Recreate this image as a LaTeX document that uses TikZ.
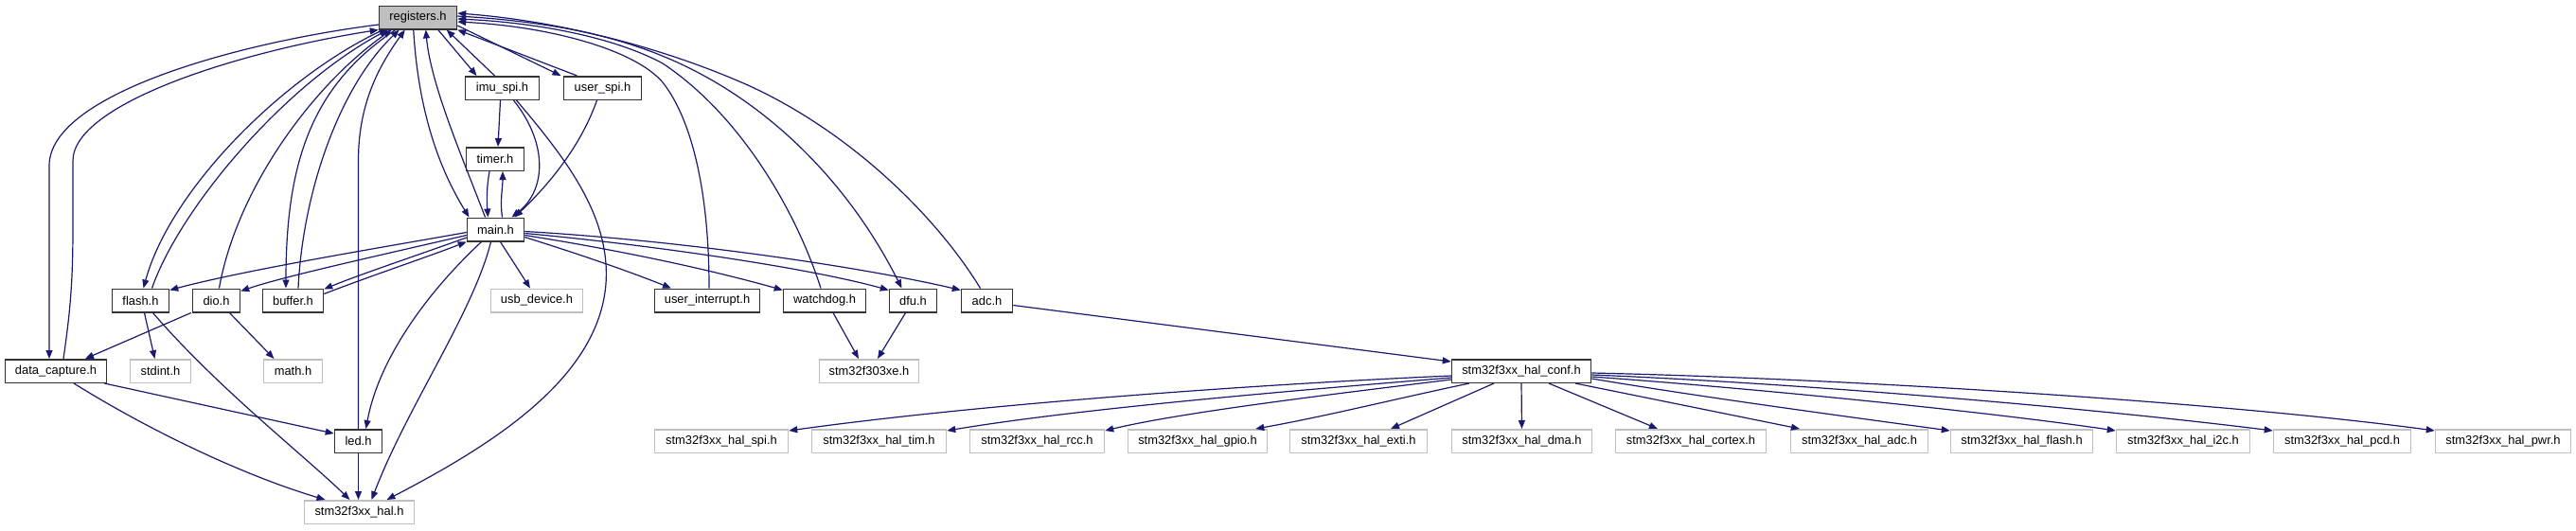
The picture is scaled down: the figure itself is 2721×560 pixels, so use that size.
\documentclass[tikz,border=0pt]{standalone}
\usepackage{fontspec}
\setmainfont{Liberation Sans}
\usetikzlibrary{arrows.meta}
\definecolor{edgeblue}{HTML}{191970}
\definecolor{boxgray}{HTML}{BFBFBF}
\definecolor{boxline}{HTML}{333333}
\begin{document}
\begin{tikzpicture}[x=1pt,y=-1pt,
  box/.style={draw=boxline, line width=1.5pt, inner sep=0pt, minimum height=24.5pt, fill=white, font=\fontsize{12.9}{15}\selectfont},
  ext/.style={box, draw=boxgray},
  edge/.style={draw=edgeblue, line width=1.2pt, -{Triangle[length=9pt,width=7pt]}},
]
\useasboundingbox[fill=white] (0,0) rectangle (2721,560);
% row 1-4
\node[box, fill=boxgray, minimum width=82pt] (reg) at (441.5,18.5) {registers.h};
\node[box, minimum width=78pt] (imu) at (530.5,93) {imu\_spi.h};
\node[box, minimum width=82pt] (uspi) at (636.5,93) {user\_spi.h};
\node[box, minimum width=61pt] (timer) at (523,168) {timer.h};
\node[box, minimum width=60pt] (main) at (523.5,242.5) {main.h};
% row 5
\node[box, minimum width=60pt] (flash) at (148.5,317.5) {flash.h};
\node[box, minimum width=50pt] (dio) at (228.5,317.5) {dio.h};
\node[box, minimum width=64pt] (buffer) at (309.5,317.5) {buffer.h};
\node[ext, minimum width=97pt] (usb) at (567,317.5) {usb\_device.h};
\node[box, minimum width=111pt] (ui) at (747,317.5) {user\_interrupt.h};
\node[box, minimum width=87pt] (wd) at (871,317.5) {watchdog.h};
\node[box, minimum width=50pt] (dfu) at (964.5,317.5) {dfu.h};
\node[box, minimum width=54pt] (adc) at (1042.5,317.5) {adc.h};
% row 6
\node[box, minimum width=107pt] (dc) at (59,392) {data\_capture.h};
\node[ext, minimum width=64pt] (stdint) at (169.5,392) {stdint.h};
\node[ext, minimum width=62pt] (math) at (309.5,392) {math.h};
\node[ext, minimum width=105pt] (f303) at (918,392) {stm32f303xe.h};
\node[box, minimum width=147pt] (conf) at (1607,392) {stm32f3xx\_hal\_conf.h};
% row 7
\node[box, minimum width=50pt] (led) at (378.5,466) {led.h};
\node[ext, minimum width=141pt] (spi) at (762,466) {stm32f3xx\_hal\_spi.h};
\node[ext, minimum width=142pt] (tim) at (928.5,466) {stm32f3xx\_hal\_tim.h};
\node[ext, minimum width=142pt] (rcc) at (1095.5,466) {stm32f3xx\_hal\_rcc.h};
\node[ext, minimum width=147pt] (gpio) at (1265,466) {stm32f3xx\_hal\_gpio.h};
\node[ext, minimum width=145pt] (exti) at (1435,466) {stm32f3xx\_hal\_exti.h};
\node[ext, minimum width=148pt] (dma) at (1607.5,466) {stm32f3xx\_hal\_dma.h};
\node[ext, minimum width=159pt] (cortex) at (1786,466) {stm32f3xx\_hal\_cortex.h};
\node[ext, minimum width=145pt] (hadc) at (1964,466) {stm32f3xx\_hal\_adc.h};
\node[ext, minimum width=150pt] (hflash) at (2135.5,466) {stm32f3xx\_hal\_flash.h};
\node[ext, minimum width=141pt] (i2c) at (2306,466) {stm32f3xx\_hal\_i2c.h};
\node[ext, minimum width=145pt] (pcd) at (2474,466) {stm32f3xx\_hal\_pcd.h};
\node[ext, minimum width=143pt] (pwr) at (2644,466) {stm32f3xx\_hal\_pwr.h};
% row 8
\node[ext, minimum width=116pt] (hal) at (379.5,541) {stm32f3xx\_hal.h};

% around registers
\draw[edge] ([xshift=63pt]reg.south west) -- ([xshift=-27pt]imu.north);
\draw[edge] ([xshift=-8pt]imu.north) -- ([xshift=72pt]reg.south west);
\draw[edge] ([yshift=-8.5pt]reg.east) -- ([xshift=-44pt]uspi.north);
\draw[edge] ([xshift=-27pt]uspi.north) -- (reg.south east);
\draw[edge] ([xshift=37pt]reg.south west) .. controls (442,120) and (465,180) .. ([xshift=-28pt]main.north);
\draw[edge] ([xshift=-11pt]main.north) .. controls (490,170) and (455,90) .. ([xshift=50pt]reg.south west);
\draw[edge] ([xshift=7pt]main.north) .. controls (528,212) and (531,198) .. ([xshift=8pt]timer.south);
\draw[edge] ([xshift=-6pt]timer.south) .. controls (514,198) and (514,212) .. ([xshift=-8pt]main.north);
\draw[edge] ([xshift=-2pt]imu.south) -- ([xshift=3pt]timer.north);
\draw[edge] ([xshift=12pt]imu.south) .. controls (578,150) and (578,200) .. ([xshift=17pt]main.north);
\draw[edge] ([xshift=-6pt]uspi.south) .. controls (615,150) and (585,190) .. ([xshift=20pt]main.north);
\draw[edge] ([xshift=15pt]imu.south) .. controls (600,170) and (645,230) .. (640,300) .. controls (632,400) and (520,470) .. ([xshift=29pt]hal.north);

% left side
\draw[edge] ([yshift=-7.5pt]reg.west) .. controls (250,45) and (52,100) .. (52,175) -- ([xshift=-7pt]dc.north);
\draw[edge] ([xshift=8pt]dc.north) .. controls (74,330) and (77,300) .. (77,240) -- (77,170) .. controls (77,110) and (250,55) .. (reg.south west);
\draw[edge] ([xshift=5pt]reg.south west) .. controls (300,80) and (180,200) .. ([xshift=3pt]flash.north);
\draw[edge] ([xshift=12pt]flash.north) .. controls (190,220) and (300,90) .. ([xshift=10pt]reg.south west);
\draw[edge] ([xshift=3pt]dio.north) .. controls (250,200) and (330,90) .. ([xshift=14pt]reg.south west);
\draw[edge] ([xshift=18pt]reg.south west) .. controls (330,90) and (302,170) .. ([xshift=-7.5pt]buffer.north);
\draw[edge] ([xshift=5.5pt]buffer.north) .. controls (320,200) and (360,90) .. ([xshift=22pt]reg.south west);
\draw[edge] (led.north) -- ++(0,-283) .. controls (378.5,110) and (400,70) .. ([xshift=28pt]reg.south west);

% main to the left and below
\draw[edge] ([yshift=-3pt]main.west) .. controls (400,262) and (260,285) .. ([yshift=-2pt]flash.north east);
\draw[edge] ([yshift=-6pt]main.west) .. controls (400,270) and (300,292) .. ([yshift=-3pt]dio.north east);
\draw[edge] ([yshift=-8.5pt]main.west) .. controls (440,270) and (380,290) .. ([yshift=-1pt]buffer.north east);
\draw[edge] ([yshift=-6pt]buffer.north east) .. controls (390,292) and (450,272) .. (main.south west);
\draw[edge] ([xshift=5pt]main.south) -- ([xshift=-7pt]usb.north);
\draw[edge] ([xshift=-15pt]main.south) .. controls (450,310) and (400,380) .. ([xshift=8pt]led.north);
\draw[edge] ([xshift=-5pt]main.south) .. controls (500,330) and (430,430) .. ([xshift=13pt]hal.north);

% bottom left
\draw[edge] ([xshift=-3pt]dc.south east) -- ([yshift=8pt]led.west);
\draw[edge] ([xshift=19pt]dc.south) .. controls (150,450) and (250,500) .. ([xshift=-36pt]hal.north);
\draw[edge] ([xshift=4pt]flash.south) -- ([xshift=-6pt]stdint.north);
\draw[edge] ([xshift=13pt]flash.south) .. controls (230,410) and (320,480) .. ([xshift=-10pt]hal.north);
\draw[edge] ([xshift=-1pt]dio.south west) -- ([xshift=31pt]dc.north);
\draw[edge] ([xshift=14pt]dio.south) -- ([xshift=-20pt]math.north);
\draw[edge] (led.south) -- (led.south |- hal.north);

% main to the right
\draw[edge] ([yshift=-8pt]main.east) .. controls (610,268) and (660,285) .. ([xshift=-38pt]ui.north);
\draw[edge] ([yshift=-6pt]main.east) .. controls (640,262) and (740,282) .. ([yshift=-2pt]wd.north west);
\draw[edge] ([yshift=-4pt]main.east) .. controls (680,258) and (850,282) .. ([yshift=-2pt]dfu.north west);
\draw[edge] ([yshift=-2pt]main.east) .. controls (720,254) and (910,282) .. ([yshift=-2pt]adc.north west);

% right side back to registers
\draw[edge] ([xshift=2pt]ui.north) .. controls (749,200) and (730,125) .. (700,87) .. controls (670,52) and (580,28) .. ([yshift=-4.5pt]reg.east);
\draw[edge] ([xshift=-4pt]wd.north) .. controls (840,220) and (780,120) .. (700,67) .. controls (650,40) and (570,24) .. ([yshift=-1.5pt]reg.east);
\draw[edge] ([yshift=1.5pt]reg.east) .. controls (570,22) and (650,35) .. (720,68) .. controls (820,115) and (900,200) .. ([xshift=-12pt]dfu.north);
\draw[edge] ([xshift=-7pt]adc.north) .. controls (990,230) and (900,140) .. (790,90) .. controls (700,50) and (590,22) .. ([yshift=4.5pt]reg.east);

\draw[edge] ([xshift=9pt]wd.south) -- ([xshift=-11pt]f303.north);
\draw[edge] ([xshift=-8pt]dfu.south) -- ([xshift=9pt]f303.north);
\draw[edge] ([yshift=-5pt]adc.east) -- ([yshift=-3pt]conf.north west);

% hal conf fan-out
\draw[edge] ([yshift=-5pt]conf.west) .. controls (1350,405) and (1050,425) .. ([yshift=-2pt]spi.north east);
\draw[edge] ([yshift=-7pt]conf.west) .. controls (1400,410) and (1150,430) .. ([yshift=-2pt]tim.north east);
\draw[edge] ([yshift=-9pt]conf.west) .. controls (1420,415) and (1250,435) .. ([yshift=-2pt]rcc.north east);
\draw[edge] ([xshift=-55pt]conf.south) .. controls (1480,420) and (1400,440) .. ([xshift=-13pt]gpio.north east);
\draw[edge] ([xshift=-29pt]conf.south) -- ([xshift=34pt]exti.north);
\draw[edge] (conf.south) -- (dma.north);
\draw[edge] ([xshift=29pt]conf.south) -- ([xshift=-35pt]cortex.north);
\draw[edge] ([xshift=57pt]conf.south) -- ([xshift=-63pt]hadc.north);
\draw[edge] ([yshift=-8pt]conf.east) .. controls (1800,420) and (1950,440) .. ([yshift=-2pt]hflash.north west);
\draw[edge] ([yshift=-6pt]conf.east) .. controls (1850,410) and (2100,435) .. ([yshift=-2pt]i2c.north west);
\draw[edge] ([yshift=-4pt]conf.east) .. controls (1900,405) and (2200,430) .. ([yshift=-2pt]pcd.north west);
\draw[edge] ([yshift=-2pt]conf.east) .. controls (1950,400) and (2350,425) .. ([yshift=-2pt]pwr.north west);
\end{tikzpicture}
\end{document}
